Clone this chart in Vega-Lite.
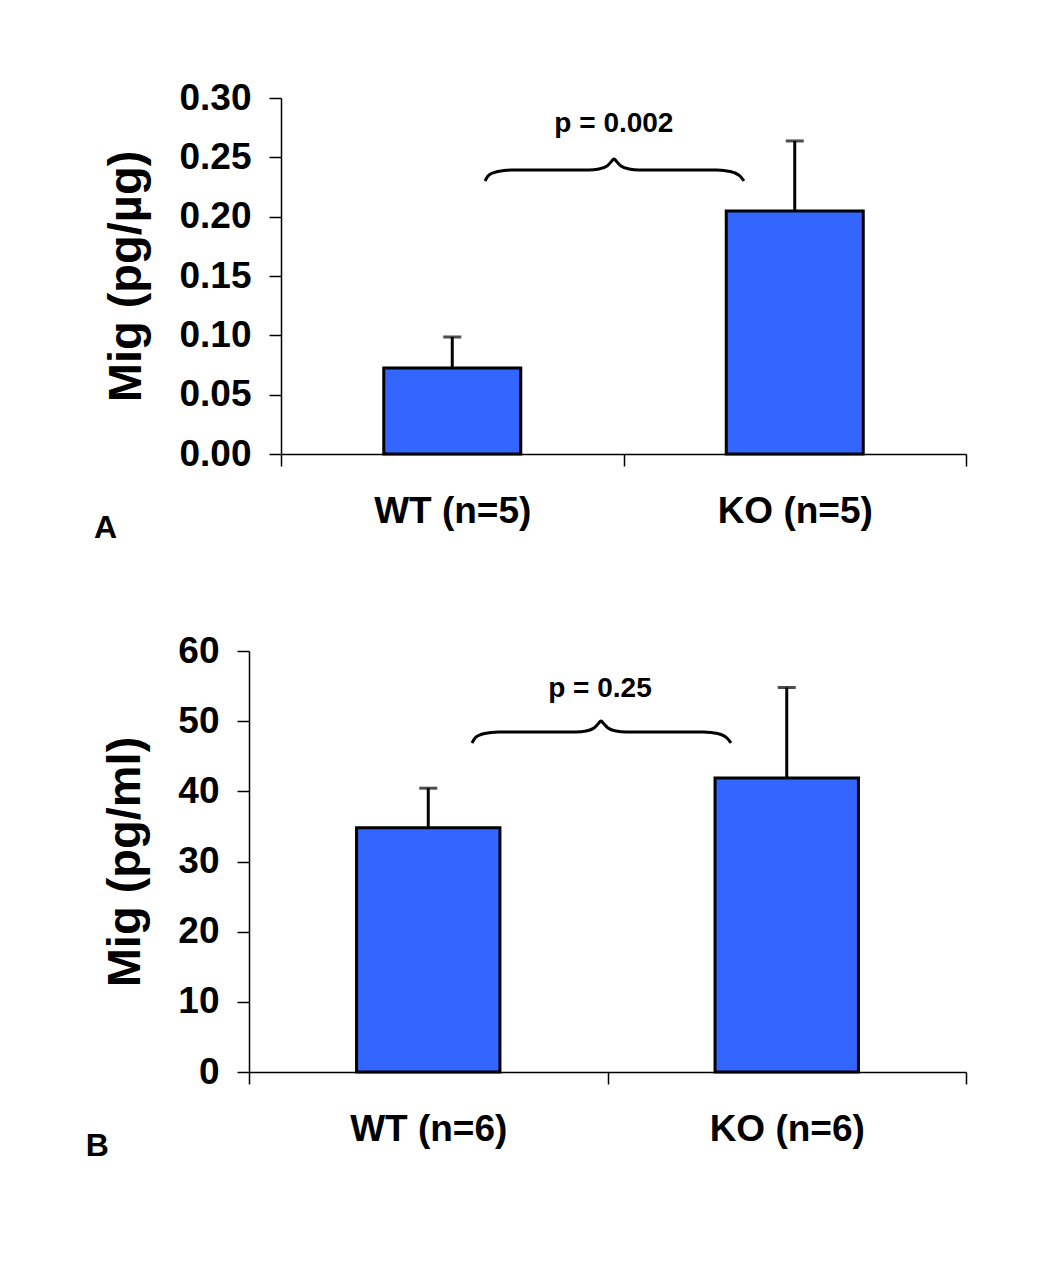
{
  "$schema": "https://vega.github.io/schema/vega-lite/v6.json",
  "background": "white",
  "padding": {"left": 85, "top": 79, "right": 5, "bottom": 5},
  "columns": 1,
  "spacing": 88,
  "datasets": {
    "barsA": [
      {"group": "WT (n=5)", "mean": 0.0725, "upper": 0.0986},
      {"group": "KO (n=5)", "mean": 0.2048, "upper": 0.2638}
    ],
    "barsB": [
      {"group": "WT (n=6)", "mean": 34.8, "upper": 40.45},
      {"group": "KO (n=6)", "mean": 41.9, "upper": 54.8}
    ],
    "braceA": [
      {"x": 0.5956, "y": 0.2301}, {"x": 0.6044, "y": 0.2343}, {"x": 0.6219, "y": 0.2372},
      {"x": 0.6511, "y": 0.2389}, {"x": 0.6715, "y": 0.2393}, {"x": 0.8993, "y": 0.2393},
      {"x": 0.9285, "y": 0.2402}, {"x": 0.9518, "y": 0.2427}, {"x": 0.9635, "y": 0.2461},
      {"x": 0.9723, "y": 0.2486}, {"x": 0.9810, "y": 0.2461}, {"x": 0.9927, "y": 0.2427},
      {"x": 1.0161, "y": 0.2402}, {"x": 1.0453, "y": 0.2393}, {"x": 1.2730, "y": 0.2393},
      {"x": 1.2934, "y": 0.2389}, {"x": 1.3226, "y": 0.2372}, {"x": 1.3401, "y": 0.2343},
      {"x": 1.3518, "y": 0.2301}
    ],
    "braceB": [
      {"x": 0.6220, "y": 46.89}, {"x": 0.6304, "y": 47.60}, {"x": 0.6471, "y": 48.10},
      {"x": 0.6750, "y": 48.38}, {"x": 0.6946, "y": 48.46}, {"x": 0.9121, "y": 48.46},
      {"x": 0.9400, "y": 48.60}, {"x": 0.9623, "y": 49.03}, {"x": 0.9735, "y": 49.60},
      {"x": 0.9819, "y": 50.02}, {"x": 0.9902, "y": 49.60}, {"x": 1.0014, "y": 49.03},
      {"x": 1.0237, "y": 48.60}, {"x": 1.0516, "y": 48.46}, {"x": 1.2692, "y": 48.46},
      {"x": 1.2887, "y": 48.38}, {"x": 1.3166, "y": 48.10}, {"x": 1.3333, "y": 47.60},
      {"x": 1.3445, "y": 46.89}
    ],
    "pA": [{"x": 0.972, "y": 0.2781, "label": "p = 0.002"}],
    "pB": [{"x": 0.979, "y": 54.65, "label": "p = 0.25"}]
  },
  "concat": [
    {
      "width": 717,
      "height": 356,
      "title": {"text": "A", "orient": "bottom", "anchor": "start", "frame": "bounds", "fontSize": 32, "offset": -16, "dx": -9},
      "layer": [
        {
          "data": {"name": "barsA"},
          "encoding": {
            "x": {"field": "group", "type": "nominal", "sort": null, "title": null,
              "scale": {"range": [32, 717], "paddingInner": 0, "paddingOuter": 0}}
          },
          "layer": [
            {
              "mark": {"type": "bar", "fill": "#3366FF", "stroke": "black", "strokeWidth": 3, "width": {"band": 0.4}},
              "encoding": {
                "y": {"field": "mean", "type": "quantitative", "title": "Mig (pg/µg)",
                  "scale": {"domain": [0, 0.3], "nice": false},
                  "axis": {"values": [0, 0.05, 0.1, 0.15, 0.2, 0.25, 0.3], "format": ".2f", "offset": -32}}
              }
            },
            {
              "mark": {"type": "rule", "color": "black", "strokeWidth": 3},
              "encoding": {
                "y": {"field": "mean", "type": "quantitative"},
                "y2": {"field": "upper"}
              }
            },
            {
              "mark": {"type": "tick", "color": "black", "size": 18, "thickness": 3},
              "encoding": {
                "y": {"field": "upper", "type": "quantitative"}
              }
            }
          ]
        },
        {
          "data": {"name": "braceA"},
          "mark": {"type": "line", "color": "black", "strokeWidth": 3, "interpolate": "monotone"},
          "encoding": {
            "x": {"field": "x", "type": "quantitative", "axis": null, "scale": {"domain": [0, 2], "range": [32, 717]}},
            "y": {"field": "y", "type": "quantitative"}
          }
        },
        {
          "data": {"name": "pA"},
          "mark": {"type": "text", "fontSize": 28, "fontWeight": "bold", "font": "Liberation Sans", "color": "black", "baseline": "middle"},
          "encoding": {
            "x": {"field": "x", "type": "quantitative", "axis": null, "scale": {"domain": [0, 2], "range": [32, 717]}},
            "y": {"field": "y", "type": "quantitative"},
            "text": {"field": "label"}
          }
        }
      ],
      "resolve": {"scale": {"x": "independent"}, "axis": {"x": "independent"}}
    },
    {
      "width": 717,
      "height": 421,
      "title": {"text": "B", "orient": "bottom", "anchor": "start", "frame": "bounds", "fontSize": 32, "offset": -16, "dx": -16},
      "layer": [
        {
          "data": {"name": "barsB"},
          "encoding": {
            "x": {"field": "group", "type": "nominal", "sort": null, "title": null,
              "scale": {"paddingInner": 0, "paddingOuter": 0}}
          },
          "layer": [
            {
              "mark": {"type": "bar", "fill": "#3366FF", "stroke": "black", "strokeWidth": 3, "width": {"band": 0.4}},
              "encoding": {
                "y": {"field": "mean", "type": "quantitative", "title": "Mig (pg/ml)",
                  "scale": {"domain": [0, 60], "nice": false},
                  "axis": {"values": [0, 10, 20, 30, 40, 50, 60]}}
              }
            },
            {
              "mark": {"type": "rule", "color": "black", "strokeWidth": 3},
              "encoding": {
                "y": {"field": "mean", "type": "quantitative"},
                "y2": {"field": "upper"}
              }
            },
            {
              "mark": {"type": "tick", "color": "black", "size": 18, "thickness": 3},
              "encoding": {
                "y": {"field": "upper", "type": "quantitative"}
              }
            }
          ]
        },
        {
          "data": {"name": "braceB"},
          "mark": {"type": "line", "color": "black", "strokeWidth": 3, "interpolate": "monotone"},
          "encoding": {
            "x": {"field": "x", "type": "quantitative", "axis": null, "scale": {"domain": [0, 2]}},
            "y": {"field": "y", "type": "quantitative"}
          }
        },
        {
          "data": {"name": "pB"},
          "mark": {"type": "text", "fontSize": 28, "fontWeight": "bold", "font": "Liberation Sans", "color": "black", "baseline": "middle"},
          "encoding": {
            "x": {"field": "x", "type": "quantitative", "axis": null, "scale": {"domain": [0, 2]}},
            "y": {"field": "y", "type": "quantitative"},
            "text": {"field": "label"}
          }
        }
      ],
      "resolve": {"scale": {"x": "independent"}, "axis": {"x": "independent"}}
    }
  ],
  "config": {
    "view": {"stroke": null},
    "font": "Liberation Sans",
    "title": {"font": "Liberation Sans", "fontWeight": "bold", "color": "black"},
    "axis": {
      "grid": false,
      "domainColor": "black",
      "domainWidth": 1.5,
      "tickColor": "black",
      "tickWidth": 1.5,
      "tickSize": 12,
      "labelFont": "Liberation Sans",
      "labelFontSize": 37,
      "labelFontWeight": "bold",
      "labelColor": "black",
      "titleFont": "Liberation Sans",
      "titleFontSize": 47,
      "titleFontWeight": "bold",
      "titleColor": "black"
    },
    "axisX": {"labelAngle": 0, "labelPadding": 27, "tickBand": "extent"},
    "axisY": {"labelPadding": 18, "titlePadding": 28}
  }
}
